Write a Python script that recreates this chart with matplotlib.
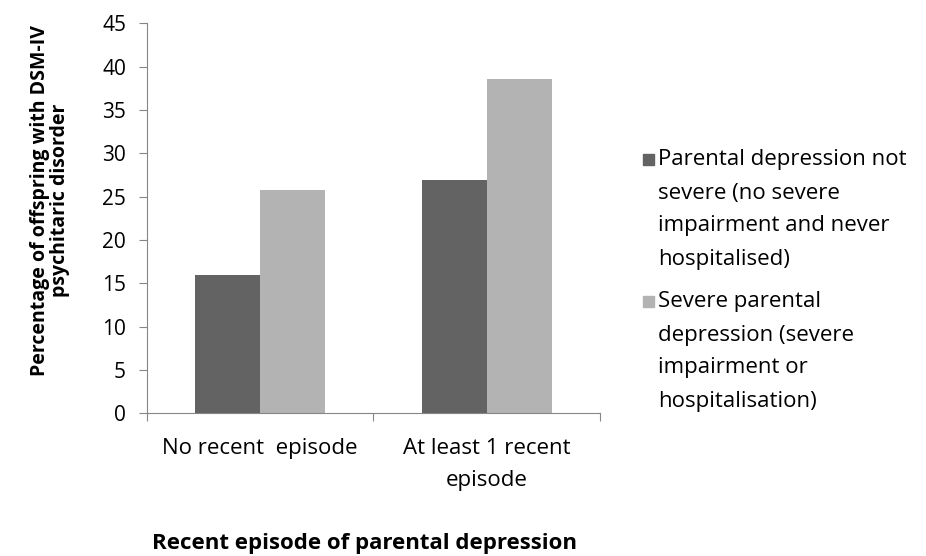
import matplotlib.pyplot as plt
from matplotlib.patches import Rectangle
import numpy as np

# Offspring outcomes by recency and severity of parental depression
categories = ["No recent  episode", "At least 1 recent\nepisode"]
not_severe = [16.0, 26.9]
severe = [25.8, 38.6]
series_names = ["Parental depression not\nsevere (no severe\nimpairment and never\nhospitalised)",
                "Severe parental\ndepression (severe\nimpairment or\nhospitalisation)"]
colors = ["#636363", "#b3b3b3"]

plt.rcParams['font.family'] = ['Open Sans', 'DejaVu Sans']
axis_col = "#868686"
fs = 16

fig = plt.figure(figsize=(9.26, 5.56), dpi=100)
ax = fig.add_axes([0.1587, 0.2567, 0.4892, 0.7014])

x = np.arange(len(categories))
w = 0.287
ax.bar(x - w / 2, not_severe, w, color=colors[0])
ax.bar(x + w / 2, severe, w, color=colors[1])

ax.set_xlim(-0.5, len(categories) - 0.5)
ax.set_ylim(0, 45)
ax.set_yticks(np.arange(0, 46, 5))
ax.tick_params(axis='y', length=6, color=axis_col, labelsize=15, pad=9)

# category ticks sit between groups, labels centred under each group
ax.set_xticks(np.arange(-0.5, len(categories), 1))
ax.set_xticklabels([])
ax.set_xticks(x, minor=True)
ax.set_xticklabels(categories, minor=True, fontsize=fs)
ax.tick_params(axis='x', which='major', length=6, color=axis_col)
ax.tick_params(axis='x', which='minor', length=0, pad=18)
for lbl in ax.get_xticklabels(minor=True):
    lbl.set_linespacing(1.65)

for s in ["top", "right"]:
    ax.spines[s].set_visible(False)
for s in ["left", "bottom"]:
    ax.spines[s].set_color(axis_col)

fig.text(0.054, 0.64, "Percentage of offspring with DSM-IV\npsychitaric disorder",
         rotation=90, ha='center', va='center', fontsize=14, fontweight='bold',
         linespacing=1.05)
fig.text(0.394, 1 - 543 / 556, "Recent episode of parental depression", ha='center',
         va='center', fontsize=fs, fontweight='bold')

# legend drawn by hand so the swatch lines up with the first text line
line_h = 33 / 556
tops = [160 / 556, 302 / 556]
for name, col, top in zip(series_names, colors, tops):
    y = 1 - top
    fig.patches.append(Rectangle((643 / 926, y - 5 / 556), 11 / 926, 11 / 556,
                                 transform=fig.transFigure, color=col))
    for i, ln in enumerate(name.split("\n")):
        fig.text(658 / 926, y - i * line_h, ln, ha='left', va='center', fontsize=fs)

fig.savefig("out.png", dpi=100)
